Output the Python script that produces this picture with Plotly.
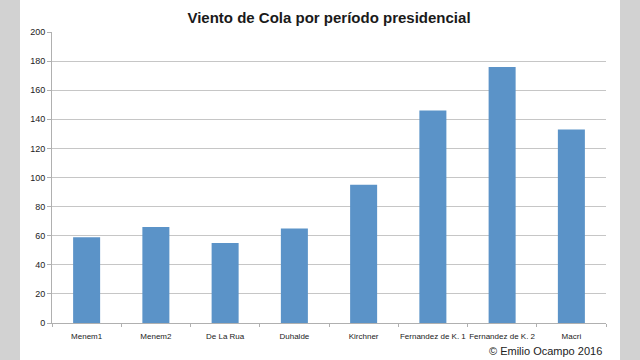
import plotly.graph_objects as go

categories = ["Menem1", "Menem2", "De La Rua", "Duhalde", "Kirchner",
              "Fernandez de K. 1", "Fernandez de K. 2", "Macri"]
values = [59, 66, 55, 65, 95, 146, 176, 133]
y_ticks = list(range(0, 201, 20))

W, H = 640, 360
L, R, T, B = 52, 34, 32, 37
pw = W - L - R

def px_to_paper_x(px):
    return (px - L) / pw

fig = go.Figure(go.Bar(
    x=categories, y=values,
    marker=dict(color="#5b93c8", line=dict(width=0)),
    width=0.39,
))

fig.update_layout(
    width=W, height=H,
    margin=dict(l=L, r=R, t=T, b=B, autoexpand=False),
    paper_bgcolor="#d2d2d2",
    plot_bgcolor="white",
    showlegend=False,
    font=dict(family="Liberation Sans, Arial, sans-serif", color="#222"),
    title=dict(text="<b>Viento de Cola por período presidencial</b>",
               x=0.5, xref="paper", xanchor="center",
               y=1 - 18 / H, yref="container", yanchor="middle",
               font=dict(size=15, color="#1a1a1a")),
    shapes=[dict(type="rect", xref="paper", yref="paper",
                 x0=px_to_paper_x(20), x1=px_to_paper_x(620),
                 y0=-2, y1=2, fillcolor="white", line=dict(width=0),
                 layer="below")],
    annotations=[dict(text="© Emilio Ocampo 2016", xref="paper", yref="paper",
                      x=px_to_paper_x(604), xanchor="right",
                      y=-(350.5 - (H - B)) / (H - T - B), yanchor="middle",
                      showarrow=False, font=dict(size=11, color="#222"))],
    bargap=0.61,
)

fig.update_yaxes(range=[0, 200], tickvals=y_ticks, showgrid=True,
                 gridcolor="#c6c6c6", gridwidth=1,
                 showline=True, linecolor="#b0b0b0", linewidth=1,
                 ticks="outside", ticklen=4, tickcolor="#b0b0b0",
                 tickfont=dict(size=9, color="#222"), zeroline=False)
fig.update_xaxes(showline=True, linecolor="#b0b0b0", linewidth=1,
                 ticks="outside", ticklen=3, tickcolor="#b0b0b0",
                 tickson="boundaries", tickangle=0, ticklabelstandoff=5,
                 tickfont=dict(size=8, color="#222"), showgrid=False)

fig.write_html("out.html")
